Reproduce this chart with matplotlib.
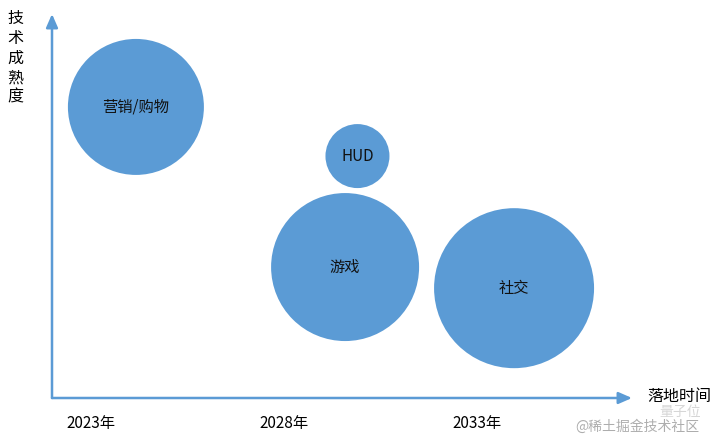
import matplotlib
matplotlib.use('Agg')
import matplotlib.pyplot as plt

plt.rcParams['font.family'] = ['Noto Sans CJK SC', 'DejaVu Sans']

# bubble data: landing year, technology maturity, bubble size
labels = ['营销/购物', 'HUD', '游戏', '社交']
years = [2024.17, 2029.9, 2029.58, 2033.95]
maturity = [7.58, 6.30, 3.41, 2.86]
sizes = [68, 32, 74, 80]

tick_years = [2023, 2028, 2033]
tick_labels = ['2023年', '2028年', '2033年']

blue = '#5b9bd5'

fig = plt.figure(figsize=(7.2, 4.46), dpi=100)
ax = fig.add_axes([52 / 720, 48 / 446, 580 / 720, 384 / 446])
ax.set_xlim(2022, 2037)
ax.set_ylim(0, 10)

# size -> marker area in points^2 (size is a radius in pixels at 100 dpi)
ax.scatter(years, maturity, s=[(2 * r * 0.72) ** 2 for r in sizes],
           color=blue, edgecolors='none', zorder=2)
for x, y, t in zip(years, maturity, labels):
    ax.text(x, y, t, ha='center', va='center', fontsize=11, color='#111111', zorder=3)

for s in ax.spines.values():
    s.set_visible(False)
ax.set_yticks([])
ax.set_xticks(tick_years)
ax.set_xticklabels(tick_labels, fontsize=11)
ax.tick_params(axis='x', length=0, pad=12)

# axis arrows
arrow = dict(arrowstyle='-|>,head_length=0.8,head_width=0.35',
             color=blue, lw=1.8, shrinkA=0, shrinkB=0)
ax.annotate('', xy=(0, 1.0), xytext=(0, 0), xycoords='axes fraction',
            arrowprops=arrow, annotation_clip=False)
ax.annotate('', xy=(1.0, 0), xytext=(0, 0), xycoords='axes fraction',
            arrowprops=arrow, annotation_clip=False)

fig.text(15 / 720, 1 - 58 / 446, '技\n术\n成\n熟\n度', ha='center', va='center',
         fontsize=11.5, linespacing=1.2)
fig.text(679 / 720, 1 - 397 / 446, '落地时间', ha='center', va='center', fontsize=11.5)

# watermark
fig.text(680 / 720, 1 - 412 / 446, '量子位', ha='center', va='center',
         fontsize=10, color='#cccccc', alpha=0.8)
fig.text(637 / 720, 1 - 427 / 446, '@稀土掘金技术社区', ha='center', va='center',
         fontsize=10, color='#999999', alpha=0.8)

fig.savefig('out.png', dpi=100)
